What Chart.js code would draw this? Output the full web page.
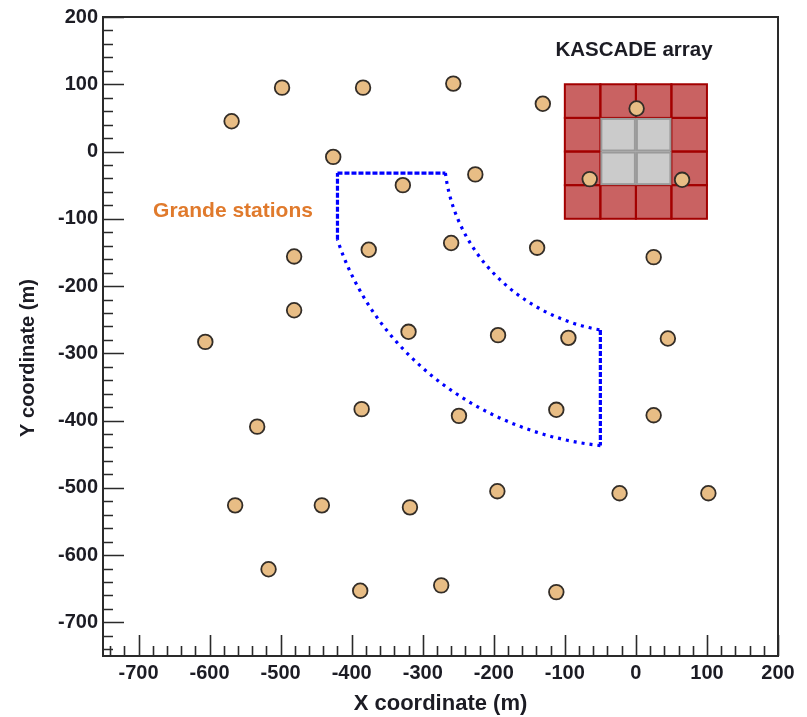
<!DOCTYPE html>
<html>
<head>
<meta charset="utf-8">
<script src="https://cdn.jsdelivr.net/npm/chart.js@4/dist/chart.umd.min.js"></script>
<style>
  html, body { margin: 0; padding: 0; background: #ffffff; }
  #wrap { width: 807px; height: 717px; }
</style>
</head>
<body>
<div id="wrap"><canvas id="c" width="807" height="717"></canvas></div>
<script>
// Grande station positions (m)
const stationX = [-498, -384, -257, -569, -426, -328, -226, -376, -481, -260,
                  -131, 1, -65, 65, -139, 25, -481, -606, -320, -533,
                  -386, -249, -194, -95, 45, -112, 25, -564, -442, -318,
                  -517, -388, -274, -195, -23, 102, -112];
const stationY = [95, 95, 101, 45, -8, -50, -34, -146, -156, -136,
                  71, 64, -41, -42, -143, -157, -236, -283, -268, -409,
                  -383, -393, -273, -277, -278, -384, -392, -526, -526, -529,
                  -621, -653, -645, -505, -508, -508, -655];

// Axis ranges and labelled ticks
const xRange = [-750, 200];
const yRange = [-750, 200];
const xTickValues = [-700, -600, -500, -400, -300, -200, -100, 0, 100, 200];
const yTickValues = [-700, -600, -500, -400, -300, -200, -100, 0, 100, 200];
const minorStep = 20;
const majorStep = 100;

// KASCADE array cell edges (m); the inner 2x2 cells are the central detector
const kascadeEdges = [-100, -50, 0, 50, 100];

// Selected area: ring between two radii around the array centre, cut by x and y limits
const regionInnerR = 270;
const regionOuterR = 440;
const regionXMin = -420;
const regionXMax = -50;
const regionYMax = -32;

const INK = '#1c1c24';
const FONT = '"Liberation Sans", Arial, sans-serif';

const decorations = {
  id: 'decorations',
  beforeDatasetsDraw(chart) {
    const { ctx, scales: { x, y } } = chart;
    const px = v => x.getPixelForValue(v);
    const py = v => y.getPixelForValue(v);
    ctx.save();

    // KASCADE array grid
    const n = kascadeEdges.length - 1;
    const isInner = (i, j) => i > 0 && i < n - 1 && j > 0 && j < n - 1;
    for (let i = 0; i < n; i++) {
      for (let j = 0; j < n; j++) {
        const x0 = px(kascadeEdges[i]), x1 = px(kascadeEdges[i + 1]);
        const y0 = py(kascadeEdges[j + 1]), y1 = py(kascadeEdges[j]);
        ctx.fillStyle = isInner(i, j) ? '#cbcbcb' : '#c96262';
        ctx.fillRect(x0, y0, x1 - x0, y1 - y0);
      }
    }
    ctx.lineWidth = 2;
    ctx.strokeStyle = '#a30000';
    for (let i = 0; i < n; i++) {
      for (let j = 0; j < n; j++) {
        if (isInner(i, j)) continue;
        const x0 = px(kascadeEdges[i]), x1 = px(kascadeEdges[i + 1]);
        const y0 = py(kascadeEdges[j + 1]), y1 = py(kascadeEdges[j]);
        ctx.strokeRect(x0, y0, x1 - x0, y1 - y0);
      }
    }
    ctx.strokeStyle = '#9a9a9a';
    for (let i = 1; i < n - 1; i++) {
      for (let j = 1; j < n - 1; j++) {
        const x0 = px(kascadeEdges[i]), x1 = px(kascadeEdges[i + 1]);
        const y0 = py(kascadeEdges[j + 1]), y1 = py(kascadeEdges[j]);
        ctx.strokeRect(x0 + 1, y0 + 1, x1 - x0 - 2, y1 - y0 - 2);
      }
    }

    // Selected area outline
    const cx = px(0), cy = py(0);
    const sx = Math.abs(px(1) - px(0)), sy = Math.abs(py(1) - py(0));
    const ang = (dx, dy) => Math.atan2(-dy, dx);
    const aX = -Math.sqrt(regionInnerR ** 2 - regionYMax ** 2);
    const bY = -Math.sqrt(regionInnerR ** 2 - regionXMax ** 2);
    const cY = -Math.sqrt(regionOuterR ** 2 - regionXMax ** 2);
    const dY = -Math.sqrt(regionOuterR ** 2 - regionXMin ** 2);
    ctx.strokeStyle = '#0000ff';
    ctx.lineWidth = 3.2;
    ctx.lineCap = 'butt';

    ctx.setLineDash([5, 2]);
    ctx.beginPath();
    ctx.moveTo(px(regionXMin), py(regionYMax));
    ctx.lineTo(px(aX), py(regionYMax));
    ctx.moveTo(px(regionXMax), py(bY));
    ctx.lineTo(px(regionXMax), py(cY));
    ctx.moveTo(px(regionXMin), py(dY));
    ctx.lineTo(px(regionXMin), py(regionYMax));
    ctx.stroke();

    ctx.setLineDash([3, 5]);
    ctx.beginPath();
    ctx.ellipse(cx, cy, regionInnerR * sx, regionInnerR * sy, 0,
                ang(aX, regionYMax), ang(regionXMax, bY), true);
    ctx.stroke();
    ctx.beginPath();
    ctx.ellipse(cx, cy, regionOuterR * sx, regionOuterR * sy, 0,
                ang(regionXMax, cY), ang(regionXMin, dY), false);
    ctx.stroke();
    ctx.restore();
  },
  afterDraw(chart) {
    const { ctx, chartArea: a, scales: { x, y } } = chart;
    ctx.save();
    // frame
    ctx.strokeStyle = '#2a2a2a';
    ctx.lineWidth = 2;
    ctx.setLineDash([]);
    ctx.strokeRect(a.left, a.top, a.right - a.left, a.bottom - a.top);
    // inward ticks on the left and bottom axes
    ctx.lineWidth = 1.6;
    ctx.beginPath();
    const first = r => Math.ceil(r[0] / minorStep) * minorStep;
    for (let v = first(xRange); v <= xRange[1]; v += minorStep) {
      const len = v % majorStep === 0 ? 21 : 10;
      const p = Math.round(x.getPixelForValue(v)) + 0.5;
      ctx.moveTo(p, a.bottom);
      ctx.lineTo(p, a.bottom - len);
    }
    for (let v = first(yRange); v <= yRange[1]; v += minorStep) {
      const len = v % majorStep === 0 ? 21 : 10;
      const p = Math.round(y.getPixelForValue(v)) + 0.5;
      ctx.moveTo(a.left, p);
      ctx.lineTo(a.left + len, p);
    }
    ctx.stroke();

    // y axis title
    ctx.fillStyle = INK;
    ctx.textAlign = 'center';
    ctx.textBaseline = 'middle';
    ctx.save();
    ctx.translate(28, 358);
    ctx.rotate(-Math.PI / 2);
    ctx.font = 'bold 20px ' + FONT;
    ctx.fillText('Y coordinate (m)', 0, 0);
    ctx.restore();

    // annotations
    ctx.font = 'bold 20.5px ' + FONT;
    ctx.fillText('KASCADE array', 634, 50);
    ctx.fillStyle = '#e07a2c';
    ctx.font = 'bold 21px ' + FONT;
    ctx.fillText('Grande stations', 233, 211);
    ctx.restore();
  }
};

new Chart(document.getElementById('c'), {
  type: 'scatter',
  data: {
    datasets: [{
      label: 'Grande stations',
      data: stationX.map((v, i) => ({ x: v, y: stationY[i] })),
      pointRadius: 7.3,
      pointHoverRadius: 7.3,
      pointBackgroundColor: '#e8bd85',
      pointBorderColor: '#332d27',
      pointBorderWidth: 1.8
    }]
  },
  options: {
    responsive: false,
    animation: false,
    events: [],
    layout: { padding: { top: 15, right: 29, left: 0, bottom: 0 } },
    plugins: { legend: { display: false }, tooltip: { enabled: false } },
    scales: {
      x: {
        type: 'linear',
        min: xRange[0],
        max: xRange[1],
        afterBuildTicks: s => { s.ticks = xTickValues.map(v => ({ value: v })); },
        afterFit: s => { s.height = 61; },
        grid: { display: false, drawTicks: false },
        border: { display: false },
        ticks: { padding: 5, color: INK, font: { family: FONT, size: 20, weight: 'bold' } },
        title: {
          display: true,
          text: 'X coordinate (m)',
          color: INK,
          padding: { top: 2, bottom: 0 },
          font: { family: FONT, size: 22, weight: 'bold' }
        }
      },
      y: {
        type: 'linear',
        min: yRange[0],
        max: yRange[1],
        afterBuildTicks: s => { s.ticks = yTickValues.map(v => ({ value: v })); },
        afterFit: s => { s.width = 103; },
        grid: { display: false, drawTicks: false },
        border: { display: false },
        ticks: { padding: 5, color: INK, font: { family: FONT, size: 20, weight: 'bold' } },
        title: { display: false }
      }
    }
  },
  plugins: [decorations]
});
</script>
</body>
</html>
